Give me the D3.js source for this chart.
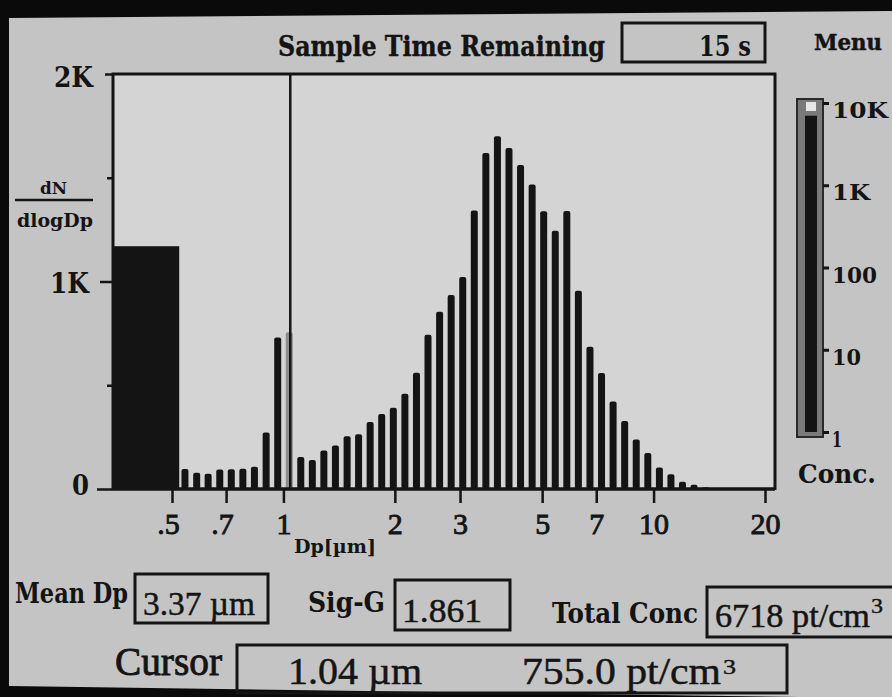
<!DOCTYPE html>
<html><head><meta charset="utf-8">
<script src="https://cdn.jsdelivr.net/npm/d3@7"></script>
<style>
html,body{margin:0;padding:0;background:#0a0a0a;overflow:hidden;}
svg{display:block;}
</style></head>
<body><svg id="c" width="892" height="697"></svg>
<script>
// ---------- data ----------
const channelDp = [0.542,0.583,0.626,0.673,0.723,0.777,0.835,0.898,0.965,1.037,
  1.114,1.197,1.286,1.382,1.486,1.596,1.715,1.843,1.981,2.129,
  2.288,2.458,2.642,2.839,3.051,3.278,3.523,3.786,4.068,4.371,
  4.698,5.048,5.425,5.829,6.264,6.732,7.234,7.774,8.354,8.977,
  9.647,10.37,11.14,11.97,12.86,13.82,14.86,15.96,17.15,18.43,19.81];
const dNdlogDp = [96,78,74,94,95,97,107,272,730,755,
  154,140,185,210,254,264,323,362,392,459,
  560,743,854,935,1022,1342,1619,1700,1643,1562,
  1467,1339,1245,1340,956,686,559,422,328,239,
  174,104,71,35,21,9,3,0,0,0,0];
const firstChannelUpper = 0.523;   // "<0.523 µm" channel
const firstChannelValue = 1170;
const xTickValues = [0.5,0.7,1,2,3,5,7,10,20];
const xTickLabels = [".5",".7","1","2","3","5","7","10","20"];
const yTickValues = [0,1000,2000];
const yTickLabels = ["0","1K","2K"];
const yMinorTicks = [500,1500];
const concTickValues = [1,10,100,1000,10000];
const concTickLabels = ["1","10","100","1K","10K"];
const cursorDp = 1.037;
const cursorDpText = "1.04 µm";
const cursorConcText = "755.0 pt/cm";
const sampleTimeText = "15 s";
const meanDpText = "3.37 µm";
const sigGText = "1.861";
const totalConcText = "6718 pt/cm";

// ---------- drawing ----------
const svg = d3.select("#c");
const INK = "#141414";
const SERIF = "'DejaVu Serif', 'Liberation Serif', serif";
const TIMES = "'Liberation Serif', 'DejaVu Serif', serif";

svg.append("rect").attr("width",892).attr("height",697).attr("fill","#0a0a0a");
svg.append("polygon")
  .attr("points","9,18 892,11 892,697 800,697 9,686")
  .attr("fill","#c4c4c4");

const x = d3.scaleLog().domain([0.5, 20]).range([172, 765]);
const y = d3.scaleLinear().domain([0, 2000]).range([489, 74]);
const plotL = 113, plotR = 775;

svg.append("rect").attr("x",plotL).attr("y",y(2000)).attr("width",plotR-plotL)
  .attr("height",y(0)-y(2000)).attr("fill","#d4d4d4");

svg.append("rect").attr("x",plotL).attr("y",y(firstChannelValue))
  .attr("width",x(firstChannelUpper)-plotL).attr("height",y(0)-y(firstChannelValue))
  .attr("fill",INK);

const bw = 7;
svg.append("g").selectAll("rect").data(channelDp.map((d,i)=>({d, v:dNdlogDp[i]})))
  .join("rect")
  .attr("x",p=>x(p.d)-bw/2).attr("y",p=>y(p.v))
  .attr("width",bw).attr("height",p=>y(0)-y(p.v))
  .attr("rx",2)
  .attr("fill",p=>p.d===cursorDp ? "#8c8c8c" : INK);

svg.append("path")
  .attr("d",`M${plotL},${y(0)} V${y(2000)} H${plotR} V${y(0)+1}`)
  .attr("fill","none").attr("stroke",INK).attr("stroke-width",3);

svg.append("line").attr("x1",x(cursorDp)+1).attr("x2",x(cursorDp)+1)
  .attr("y1",y(2000)).attr("y2",y(0))
  .attr("stroke",INK).attr("stroke-width",2.5);

// x axis
const gx = svg.append("g").attr("transform",`translate(0,${y(0)})`)
  .call(d3.axisBottom(x).tickValues(xTickValues)
    .tickFormat((d,i)=>xTickLabels[i]).tickSize(14).tickSizeOuter(0));
gx.select(".domain").attr("d",`M${plotL},0H${plotR}`).attr("stroke",INK).attr("stroke-width",3.5);
gx.selectAll(".tick line").attr("stroke",INK).attr("stroke-width",2.5);
gx.selectAll(".tick text")
  .attr("y",45).attr("dy",0)
  .attr("dx",(d,i)=>xTickLabels[i].startsWith(".") ? -4 : 0)
  .attr("fill",INK).attr("stroke",INK).attr("stroke-width",0.9)
  .style("font-family",TIMES).style("font-size","30px");

svg.append("text").attr("x",294).attr("y",553).attr("textLength",82)
  .attr("lengthAdjust","spacingAndGlyphs")
  .attr("fill",INK).style("font-family",SERIF).style("font-weight","bold").style("font-size","18px")
  .text("Dp[µm]");

// y axis
const tickLen = {0:16, 1000:13, 2000:8};
const labDy = {0:5, 1000:11, 2000:12};
const gy = svg.append("g").attr("transform",`translate(${plotL},0)`)
  .call(d3.axisLeft(y).tickValues(yTickValues).tickFormat((d,i)=>yTickLabels[i]).tickSizeOuter(0));
gy.select(".domain").remove();
gy.selectAll(".tick line").attr("x2",d=>-tickLen[d]).attr("stroke",INK).attr("stroke-width",2.5);
gy.selectAll(".tick text")
  .attr("x",d=>d===2000?-20:-24).attr("dy",d=>labDy[d])
  .attr("fill",INK).style("font-family",SERIF).style("font-weight","bold").style("font-size","27px")
  .attr("textLength",d=>d===0?17:39).attr("lengthAdjust","spacingAndGlyphs");
const gym = svg.append("g").attr("transform",`translate(${plotL},0)`)
  .call(d3.axisLeft(y).tickValues(yMinorTicks).tickFormat("").tickSize(6).tickSizeOuter(0));
gym.select(".domain").remove();
gym.selectAll(".tick line").attr("stroke",INK).attr("stroke-width",2.5);

function label(t, xx, yy, size, opts={}){
  const el = svg.append("text").attr("x",xx).attr("y",yy).attr("fill",INK)
    .style("font-family",opts.font||SERIF).style("font-size",size+"px")
    .style("font-weight",opts.weight||"bold").text(t);
  if(opts.w) el.attr("textLength",opts.w).attr("lengthAdjust","spacingAndGlyphs");
  if(opts.anchor) el.attr("text-anchor",opts.anchor);
  if(opts.stroke) el.attr("stroke",INK).attr("stroke-width",opts.stroke);
  return el;
}
label("dN",40,194,16,{w:27});
svg.append("line").attr("x1",15).attr("x2",93).attr("y1",200).attr("y2",200)
  .attr("stroke",INK).attr("stroke-width",2.5);
label("dlogDp",17,227,19,{w:76});

// header
label("Sample Time Remaining",278,56,28,{w:327,stroke:0.4});
svg.append("rect").attr("x",622).attr("y",23).attr("width",143).attr("height",39)
  .attr("fill","none").attr("stroke",INK).attr("stroke-width",3);
label(sampleTimeText,751,56,27,{w:52,anchor:"end"});
label("Menu",814,50,23,{w:68,stroke:0.5});

// concentration colour bar
const cy = d3.scaleLog().domain([1,10000]).range([432,103]);
svg.append("rect").attr("x",797).attr("y",99).attr("width",26).attr("height",338)
  .attr("fill","#7a7a7a").attr("stroke","#2a2a2a").attr("stroke-width",2);
svg.append("rect").attr("x",805).attr("y",cy(7000)).attr("width",12).attr("height",cy(1)-cy(7000))
  .attr("fill",INK);
svg.append("rect").attr("x",806).attr("y",102).attr("width",10).attr("height",9)
  .attr("fill","#e6e6e6");
const gc = svg.append("g").attr("transform","translate(823,0)")
  .call(d3.axisRight(cy).tickValues(concTickValues).tickFormat((d,i)=>concTickLabels[i])
    .tickSize(6).tickPadding(3).tickSizeOuter(0));
gc.select(".domain").remove();
gc.selectAll(".tick line").attr("stroke",INK).attr("stroke-width",3);
gc.selectAll(".tick text").attr("dy","0.85em").attr("y",-5)
  .attr("fill",INK).style("font-family",SERIF).style("font-weight","bold").style("font-size","23px")
  .attr("textLength",(d,i)=>[10,29,45,38,56][i]).attr("lengthAdjust","spacingAndGlyphs");
label("Conc.",798,483,26,{w:78});

// stats row
label("Mean Dp",15,603,27,{w:113});
svg.append("rect").attr("x",135).attr("y",574).attr("width",133).attr("height",49)
  .attr("fill","none").attr("stroke",INK).attr("stroke-width",3);
label(meanDpText,143,615,33,{w:112,font:TIMES,weight:"normal",stroke:0.5});

label("Sig-G",308,612,27,{w:77});
svg.append("rect").attr("x",395).attr("y",580).attr("width",115).attr("height",50)
  .attr("fill","none").attr("stroke",INK).attr("stroke-width",3);
label(sigGText,402,622,34,{w:80,font:TIMES,weight:"normal",stroke:0.5});

label("Total Conc",552,623,27,{w:146});
svg.append("rect").attr("x",707).attr("y",587).attr("width",200).attr("height",50)
  .attr("fill","none").attr("stroke",INK).attr("stroke-width",3);
label(totalConcText,715,627,33,{w:155,font:TIMES,weight:"normal",stroke:0.5});
label("3",871,613,21,{w:12,font:TIMES,weight:"normal",stroke:0.4});

// cursor row
label("Cursor",115,675,41,{w:107,font:TIMES,weight:"normal",stroke:0.9});
svg.append("rect").attr("x",237).attr("y",645).attr("width",550).attr("height",48)
  .attr("fill","none").attr("stroke",INK).attr("stroke-width",3);
label(cursorDpText,288,684,37,{w:134,font:TIMES,weight:"normal",stroke:0.5});
label(cursorConcText,522,684,37,{w:199,font:TIMES,weight:"normal",stroke:0.5});
label("3",723,674,21,{w:13,font:TIMES,weight:"normal",stroke:0.4});
</script>
</body></html>
